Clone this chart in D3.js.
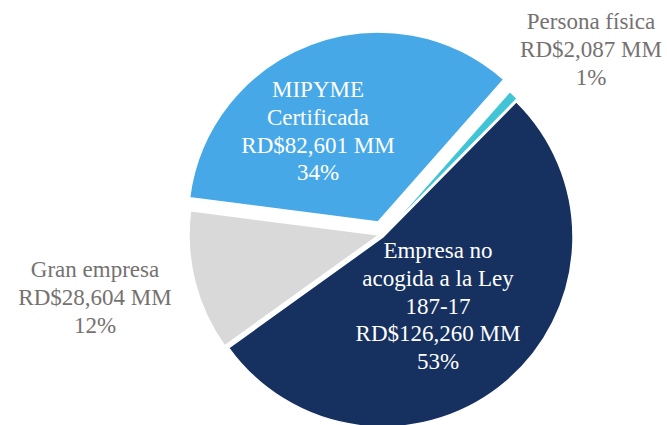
<!DOCTYPE html>
<html>
<head>
<meta charset="utf-8">
<script src="https://cdn.jsdelivr.net/npm/d3@7"></script>
<style>
  html, body { margin: 0; padding: 0; background: #ffffff; }
  svg { display: block; }
  text { font-family: "Liberation Serif", "Times New Roman", serif; }
</style>
</head>
<body>
<svg id="chart" width="667" height="425"></svg>
<script>
// ---- Data ----
const categories = ["MIPYME Certificada", "Persona física", "Empresa no acogida a la Ley 187-17", "Gran empresa"];
const categoryLines = [["MIPYME", "Certificada"], ["Persona física"], ["Empresa no", "acogida a la Ley", "187-17"], ["Gran empresa"]];
const values = [82601, 2087, 126260, 28604];
const amountLabels = ["RD$82,601 MM", "RD$2,087 MM", "RD$126,260 MM", "RD$28,604 MM"];
const percentLabels = ["34%", "1%", "53%", "12%"];

// ---- Style / layout ----
const colors = ["#47A8E8", "#41C4D6", "#163060", "#D9D9D9"];
const labelColors = ["#ffffff", "#767171", "#ffffff", "#767171"];
const sliceOffsets = [[-2, -8], [4, 4], [3, 7], [-1, 5]];
const labelPos = [[318, 97], [591, 29], [438, 258], [95, 277]];
const center = [380, 230];
const radius = 190;
const lineH = 27.8;

const svg = d3.select("#chart");
const pie = d3.pie().sort(null).value(d => d)
  .startAngle(-82.7 * Math.PI / 180)
  .endAngle((360 - 82.7) * Math.PI / 180);
const arcs = pie(values);
const arc = d3.arc().innerRadius(0).outerRadius(radius);

const g = svg.append("g").attr("transform", `translate(${center[0]},${center[1]})`);
g.selectAll("path.slice")
  .data(arcs)
  .enter()
  .append("path")
  .attr("class", "slice")
  .attr("d", arc)
  .attr("transform", (d, i) => `translate(${sliceOffsets[i][0]},${sliceOffsets[i][1]})`)
  .attr("fill", (d, i) => colors[i])
  .attr("stroke", "#ffffff")
  .attr("stroke-width", 1.5);

categories.forEach((c, i) => {
  const lines = categoryLines[i].concat([amountLabels[i], percentLabels[i]]);
  const t = svg.append("text")
    .attr("x", labelPos[i][0])
    .attr("y", labelPos[i][1])
    .attr("text-anchor", "middle")
    .attr("font-size", "23px")
    .attr("fill", labelColors[i]);
  lines.forEach((ln, k) => {
    t.append("tspan")
      .attr("x", labelPos[i][0])
      .attr("y", labelPos[i][1] + k * lineH)
      .text(ln);
  });
});
</script>
</body>
</html>
